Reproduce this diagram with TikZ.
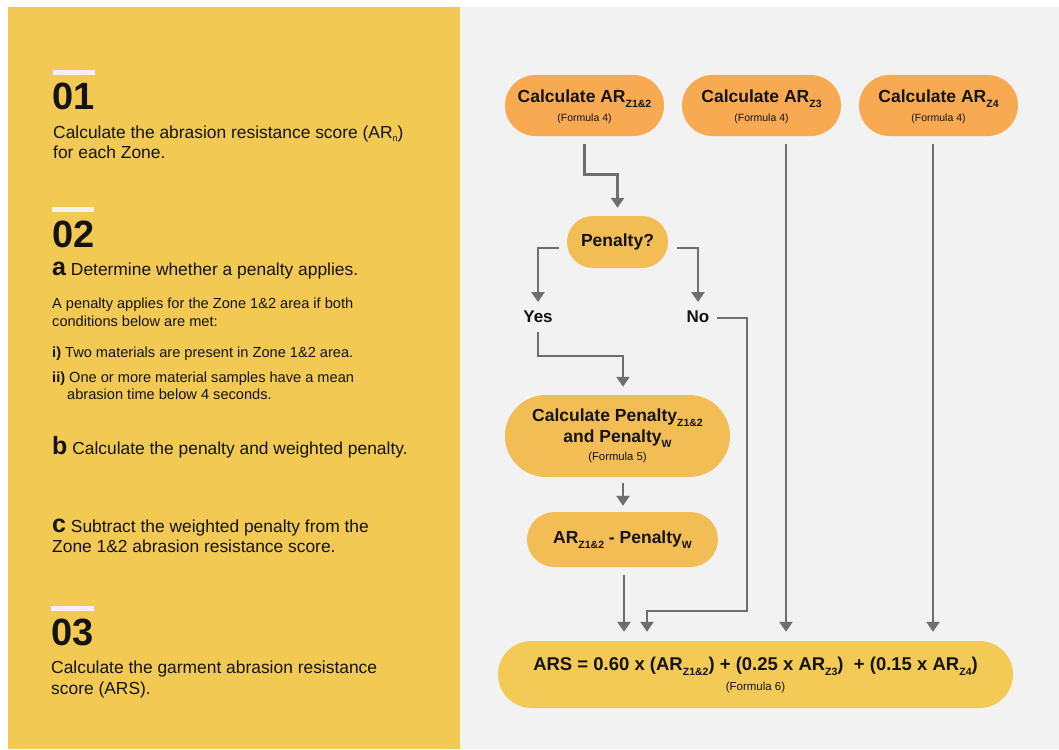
\documentclass[tikz,border=0pt]{standalone}
\usepackage{fontspec}
\setmainfont{Liberation Sans}
\usetikzlibrary{arrows.meta,calc,shapes.misc}
\definecolor{panelY}{HTML}{F1C953}
\definecolor{panelG}{HTML}{F2F2F2}
\definecolor{orangeN}{HTML}{F8AA52}
\definecolor{penN}{HTML}{F3BD56}
\definecolor{arsN}{HTML}{F2CA55}
\definecolor{arrowc}{HTML}{6D6E71}
\definecolor{inkc}{HTML}{141414}
\newcommand\zsub[1]{\raisebox{-5pt}{\fontsize{10.5}{10.5}\selectfont #1}}
\newcommand\fsmall[2][10.5]{{\fontsize{#1}{12}\selectfont\mdseries #2}}
\tikzset{
  txt/.style={anchor=base west, inner sep=0pt, text=inkc, font=\fontsize{17.4}{20}\selectfont},
  stxt/.style={anchor=base west, inner sep=0pt, text=inkc, font=\fontsize{14.6}{17}\selectfont},
  numtxt/.style={anchor=base west, inner sep=0pt, text=inkc, font=\bfseries\fontsize{38}{40}\selectfont},
  fnode/.style={rounded rectangle, inner sep=0pt, align=center, text=inkc,
    font=\bfseries\fontsize{17.5}{21}\selectfont},
  lbl/.style={inner sep=0pt, text=inkc, font=\bfseries\fontsize{17}{20}\selectfont},
  arr/.style={draw=arrowc, line width=2.8pt, -{Triangle[width=13pt,length=10pt]}},
  bar/.style={fill=panelG}
}
\newcommand\bigL[1]{{\bfseries\fontsize{25}{25}\selectfont #1}}
\begin{document}
\begin{tikzpicture}[x=1pt,y=-1pt]
\useasboundingbox (0,0) rectangle (1059,749);
\fill[white] (0,0) rectangle (1059,749);
\fill[panelY] (8,7) rectangle (460,749);
\fill[panelG] (460,7) rectangle (1059,749);

% left panel
\fill[bar] (53,70) rectangle (95,75);
\node[numtxt] (n1) at (52,110) {01};
\node[txt] (t1a) at (53,138) {Calculate the abrasion resistance score (AR\raisebox{-4pt}{\fontsize{9}{9}\selectfont n})};
\node[txt] (t1b) at (53,158) {for each Zone.};

\fill[bar] (52,207) rectangle (94,212);
\node[numtxt] (n2) at (52,247) {02};
\node[txt] (t2a) at (52,275) {\bigL{a} Determine whether a penalty applies.};
\node[stxt] (t2b) at (52,308) {A penalty applies for the Zone 1\&2 area if both};
\node[stxt] (t2c) at (52,326) {conditions below are met:};
\node[stxt] (t2d) at (52,357) {\textbf{i)} Two materials are present in Zone 1\&2 area.};
\node[stxt] (t2e) at (52,382) {\textbf{ii)} One or more material samples have a mean};
\node[stxt] (t2f) at (67,399) {abrasion time below 4 seconds.};
\node[txt] (t2g) at (52,454) {\bigL{b} Calculate the penalty and weighted penalty.};
\node[txt] (t2h) at (52,532) {\bigL{c} Subtract the weighted penalty from the};
\node[txt] (t2i) at (52,552) {Zone 1\&2 abrasion resistance score.};

\fill[bar] (51,606) rectangle (94,611);
\node[numtxt] (n3) at (51,645) {03};
\node[txt] (t3a) at (51,673) {Calculate the garment abrasion resistance};
\node[txt] (t3b) at (51,694) {score (ARS).};

% flow nodes
\node[fnode, fill=orangeN, minimum width=159pt, minimum height=61pt] (z12) at (584.5,105.5)
  {\rule{0pt}{15pt}Calculate AR\zsub{Z1\&2}\\[-2pt]\fsmall{(Formula 4)}};
\node[fnode, fill=orangeN, minimum width=159pt, minimum height=61pt] (z3) at (761.5,105.5)
  {\rule{0pt}{15pt}Calculate AR\zsub{Z3}\\[-2pt]\fsmall{(Formula 4)}};
\node[fnode, fill=orangeN, minimum width=159pt, minimum height=61pt] (z4) at (938.5,105.5)
  {\rule{0pt}{15pt}Calculate AR\zsub{Z4}\\[-2pt]\fsmall{(Formula 4)}};
\node[fnode, fill=penN, minimum width=101pt, minimum height=52pt] (pen) at (617.5,242) {Penalty?};
\node[lbl] (yes) at (538,317) {Yes};
\node[lbl] (no) at (698,317) {No};
\node[fnode, fill=penN, minimum width=225pt, minimum height=82pt] (cpen) at (617.5,436)
  {Calculate Penalty\zsub{Z1\&2}\\and Penalty\zsub{W}\\[-3pt]\fsmall[11.3]{(Formula 5)}};
\node[fnode, fill=penN, minimum width=191pt, minimum height=55pt] (arpen) at (622.5,539.5)
  {AR\zsub{Z1\&2} - Penalty\zsub{W}};
\node[fnode, fill=arsN, minimum width=515pt, minimum height=67pt, font=\bfseries\fontsize{18.5}{22}\selectfont] (ars) at (755.5,674.5)
  {\rule{0pt}{15pt}ARS = 0.60 x (AR\zsub{Z1\&2}) + (0.25 x AR\zsub{Z3})\ \ + (0.15 x AR\zsub{Z4})\\[-2pt]\fsmall[11.5]{(Formula 6)}};

% connectors
\draw[arr] ($(z12.south)+(0,8)$) -- ++(0,30) -| ($(pen.north)+(0,-8)$);
\draw[arr] ($(pen.west)+(-8,6)$) -| ($(yes.center)+(0,-15)$);
\draw[arr] ($(pen.east)+(9,6)$) -| ($(no.center)+(0,-15)$);
\draw[arr] ($(yes.center)+(0,15)$) -- ++(0,24) -| ($(cpen.north)+(5.5,-8)$);
\draw[arr] ($(cpen.south)+(5.5,6)$) -- ($(arpen.north)+(0.5,-6)$);
\draw[arr] ($(arpen.south)+(1.5,8)$) -- ($(ars.north)+(-131.5,-9)$);
\coordinate (nobend) at (747,611);
\draw[arr] ($(no.center)+(19,1)$) -| (nobend) -| ($(ars.north)+(-108.5,-9)$);
\draw[arr] ($(z3.south)+(24.5,8)$) coordinate (t3) -- ($(t3 |- ars.north)+(0,-9)$);
\draw[arr] ($(z4.south)+(-5.5,8)$) coordinate (t4) -- ($(t4 |- ars.north)+(0,-9)$);
\end{tikzpicture}
\end{document}
